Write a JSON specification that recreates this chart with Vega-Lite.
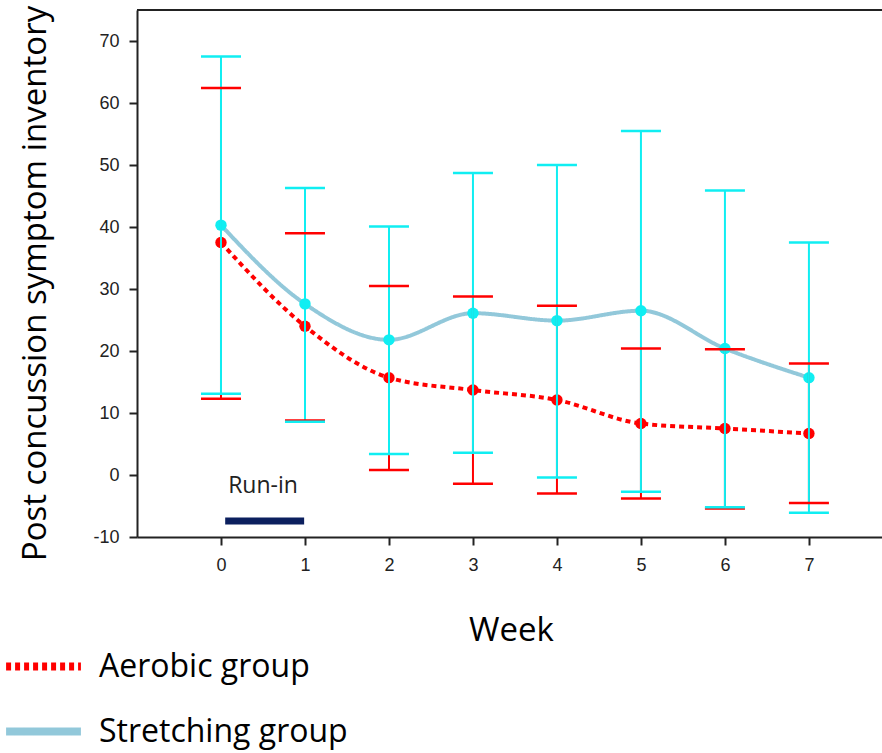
{
  "$schema": "https://vega.github.io/schema/vega-lite/v6.json",
  "width": 745,
  "height": 527,
  "autosize": {"type": "none"},
  "padding": {"left": 137, "top": 10, "right": 0, "bottom": 216},
  "background": "white",
  "view": {"stroke": null},
  "datasets": {
    "stats": [
      {"week": 0, "group": "Aerobic group", "mean": 37.5, "lo": 12.3, "hi": 62.4},
      {"week": 1, "group": "Aerobic group", "mean": 24.0, "lo": 8.8, "hi": 39.0},
      {"week": 2, "group": "Aerobic group", "mean": 15.7, "lo": 0.8, "hi": 30.5},
      {"week": 3, "group": "Aerobic group", "mean": 13.7, "lo": -1.4, "hi": 28.8},
      {"week": 4, "group": "Aerobic group", "mean": 12.1, "lo": -3.0, "hi": 27.3},
      {"week": 5, "group": "Aerobic group", "mean": 8.3, "lo": -3.8, "hi": 20.4},
      {"week": 6, "group": "Aerobic group", "mean": 7.5, "lo": -5.4, "hi": 20.3},
      {"week": 7, "group": "Aerobic group", "mean": 6.7, "lo": -4.5, "hi": 18.0},
      {"week": 0, "group": "Stretching group", "mean": 40.3, "lo": 13.1, "hi": 67.5},
      {"week": 1, "group": "Stretching group", "mean": 27.6, "lo": 8.6, "hi": 46.3},
      {"week": 2, "group": "Stretching group", "mean": 21.8, "lo": 3.4, "hi": 40.1},
      {"week": 3, "group": "Stretching group", "mean": 26.1, "lo": 3.6, "hi": 48.7},
      {"week": 4, "group": "Stretching group", "mean": 24.9, "lo": -0.4, "hi": 50.0},
      {"week": 5, "group": "Stretching group", "mean": 26.5, "lo": -2.7, "hi": 55.5},
      {"week": 6, "group": "Stretching group", "mean": 20.4, "lo": -5.2, "hi": 45.9},
      {"week": 7, "group": "Stretching group", "mean": 15.7, "lo": -6.1, "hi": 37.5}
    ],
    "runin": [
      {"week": 0.05, "week2": 0.99, "val": -7.4, "textWeek": 0.5, "textVal": -1.7, "label": "Run-in"}
    ],
    "frame": [{"top": 75}]
  },
  "config": {
    "font": "Liberation Sans",
    "axisY": {
      "grid": false,
      "domainColor": "#222",
      "domainWidth": 2,
      "tickColor": "#222",
      "tickWidth": 2,
      "tickSize": 8,
      "labelFont": "Liberation Sans",
      "labelFontSize": 18,
      "labelColor": "#222",
      "labelPadding": 10,
      "titleFont": "Open Sans",
      "titleFontSize": 33,
      "titleFontWeight": "normal",
      "titleColor": "#000",
      "titleX": -102,
      "titleY": 273,
      "titleAngle": -90,
      "titleAlign": "center",
      "titleBaseline": "middle"
    },
    "axisX": {
      "grid": false,
      "domainColor": "#222",
      "domainWidth": 2,
      "tickColor": "#222",
      "tickWidth": 2,
      "tickSize": 8,
      "labelFont": "Liberation Sans",
      "labelFontSize": 18,
      "labelColor": "#222",
      "labelPadding": 11,
      "titleFont": "Open Sans",
      "titleFontSize": 33,
      "titleFontWeight": "normal",
      "titleColor": "#000",
      "titleX": 374,
      "titleY": 93,
      "titleAlign": "center",
      "titleBaseline": "middle"
    }
  },
  "layer": [
    {
      "data": {"name": "frame"},
      "mark": {"type": "rule", "color": "#222", "strokeWidth": 2},
      "encoding": {
        "y": {
          "field": "top",
          "type": "quantitative",
          "scale": {"domain": [-10, 75], "nice": false, "zero": false},
          "title": "Post concussion symptom inventory",
          "axis": {"values": [-10, 0, 10, 20, 30, 40, 50, 60, 70], "labelExpr": "'' + datum.value"}
        }
      }
    },
    {
      "data": {"name": "stats"},
      "mark": {"type": "line", "interpolate": "monotone", "strokeWidth": 4},
      "encoding": {
        "x": {
          "field": "week",
          "type": "quantitative",
          "scale": {"domain": [-1, 7.87], "nice": false, "zero": false},
          "title": "Week",
          "axis": {"values": [0, 1, 2, 3, 4, 5, 6, 7], "labelExpr": "'' + datum.value"}
        },
        "y": {"field": "mean", "type": "quantitative", "title": "Post concussion symptom inventory"},
        "color": {
          "field": "group",
          "type": "nominal",
          "scale": {"domain": ["Aerobic group", "Stretching group"], "range": ["#ff0000", "#92c8da"]},
          "legend": {
            "orient": "none",
            "legendX": -135,
            "legendY": 615,
            "title": null,
            "symbolType": "stroke",
            "symbolSize": 5600,
            "symbolStrokeWidth": 8,
            "labelFont": "Open Sans",
            "labelFontSize": 32,
            "labelColor": "#000",
            "labelOffset": 14,
            "labelLimit": 0,
            "rowPadding": 7
          }
        },
        "strokeDash": {
          "field": "group",
          "type": "nominal",
          "scale": {"domain": ["Aerobic group", "Stretching group"], "range": [[5, 4], [1, 0]]},
          "legend": null
        }
      }
    },
    {
      "data": {"name": "stats"},
      "transform": [{"filter": "datum.group === 'Aerobic group'"}],
      "mark": {"type": "point", "filled": true, "color": "#ff0000", "size": 130, "opacity": 1},
      "encoding": {
        "x": {"field": "week", "type": "quantitative", "title": "Week"},
        "y": {"field": "mean", "type": "quantitative", "title": "Post concussion symptom inventory"}
      }
    },
    {
      "data": {"name": "stats"},
      "transform": [{"filter": "datum.group === 'Stretching group'"}],
      "mark": {"type": "point", "filled": true, "color": "#10eef2", "size": 130, "opacity": 1},
      "encoding": {
        "x": {"field": "week", "type": "quantitative", "title": "Week"},
        "y": {"field": "mean", "type": "quantitative", "title": "Post concussion symptom inventory"}
      }
    },
    {
      "data": {"name": "stats"},
      "transform": [{"filter": "datum.group === 'Aerobic group'"}],
      "mark": {"type": "rule", "color": "#ff0000", "strokeWidth": 2},
      "encoding": {
        "x": {"field": "week", "type": "quantitative", "title": "Week"},
        "y": {"field": "lo", "type": "quantitative", "title": "Post concussion symptom inventory"},
        "y2": {"field": "hi"}
      }
    },
    {
      "data": {"name": "stats"},
      "transform": [{"filter": "datum.group === 'Stretching group'"}],
      "mark": {"type": "rule", "color": "#10eef2", "strokeWidth": 2},
      "encoding": {
        "x": {"field": "week", "type": "quantitative", "title": "Week"},
        "y": {"field": "lo", "type": "quantitative", "title": "Post concussion symptom inventory"},
        "y2": {"field": "hi"}
      }
    },
    {
      "data": {"name": "stats"},
      "transform": [
        {"filter": "datum.group === 'Aerobic group'"},
        {"fold": ["lo", "hi"], "as": ["end", "cap"]}
      ],
      "mark": {"type": "tick", "orient": "horizontal", "color": "#ff0000", "size": 40, "thickness": 2.5, "opacity": 1},
      "encoding": {
        "x": {"field": "week", "type": "quantitative", "title": "Week"},
        "y": {"field": "cap", "type": "quantitative", "title": "Post concussion symptom inventory"}
      }
    },
    {
      "data": {"name": "stats"},
      "transform": [
        {"filter": "datum.group === 'Stretching group'"},
        {"fold": ["lo", "hi"], "as": ["end", "cap"]}
      ],
      "mark": {"type": "tick", "orient": "horizontal", "color": "#10eef2", "size": 40, "thickness": 2.5, "opacity": 1},
      "encoding": {
        "x": {"field": "week", "type": "quantitative", "title": "Week"},
        "y": {"field": "cap", "type": "quantitative", "title": "Post concussion symptom inventory"}
      }
    },
    {
      "data": {"name": "runin"},
      "mark": {"type": "rule", "color": "#0b1f5e", "strokeWidth": 7},
      "encoding": {
        "x": {"field": "week", "type": "quantitative", "title": "Week"},
        "x2": {"field": "week2"},
        "y": {"field": "val", "type": "quantitative", "title": "Post concussion symptom inventory"}
      }
    },
    {
      "data": {"name": "runin"},
      "mark": {"type": "text", "font": "Open Sans", "fontSize": 23, "color": "#222", "align": "center", "baseline": "middle"},
      "encoding": {
        "x": {"field": "textWeek", "type": "quantitative", "title": "Week"},
        "y": {"field": "textVal", "type": "quantitative", "title": "Post concussion symptom inventory"},
        "text": {"field": "label"}
      }
    }
  ]
}
